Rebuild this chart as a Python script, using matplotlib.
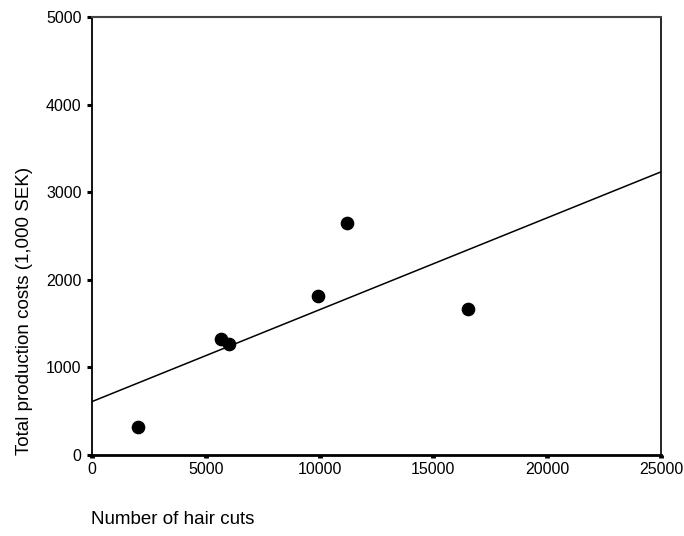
import matplotlib
matplotlib.use("Agg")
import matplotlib.pyplot as plt
import numpy as np

plt.rcParams['font.family'] = ['Liberation Sans', 'DejaVu Sans']

# hair cuts per salon and total production costs (1,000 SEK)
hair_cuts = [2000, 5650, 6000, 9950, 11200, 16500]
costs = [320, 1325, 1265, 1815, 2650, 1665]

x_ticks = [0, 5000, 10000, 15000, 20000, 25000]
y_ticks = [0, 1000, 2000, 3000, 4000, 5000]


def main():
    fig = plt.figure(figsize=(6.84, 5.36), dpi=100)
    ax = fig.add_axes([92 / 684, 1 - 455 / 536, 569 / 684, 438 / 536])

    ax.scatter(hair_cuts, costs, s=78, color='black', zorder=3)

    # least squares line through the points
    slope, intercept = np.polyfit(hair_cuts, costs, 1)
    xs = np.array([x_ticks[0], x_ticks[-1]])
    ax.plot(xs, intercept + slope * xs, color='black', lw=1.1)

    ax.set_xlim(x_ticks[0], x_ticks[-1])
    ax.set_ylim(y_ticks[0], y_ticks[-1])
    ax.set_xticks(x_ticks)
    ax.set_yticks(y_ticks)
    ax.set_xticklabels([str(t) for t in x_ticks])
    ax.set_yticklabels([str(t) for t in y_ticks])

    ax.tick_params(axis='x', direction='out', length=2.2, width=3.5,
                   pad=2.5, labelsize=11.5)
    ax.tick_params(axis='y', direction='out', length=3.5, width=2.2,
                   pad=4, labelsize=11.5)

    ax.spines['left'].set_linewidth(1.3)
    ax.spines['bottom'].set_linewidth(2.0)
    ax.spines['top'].set_linewidth(1.5)
    ax.spines['top'].set_color('#444444')
    ax.spines['right'].set_linewidth(1.2)

    fig.text(25 / 684, 1 - 311 / 536, 'Total production costs (1,000 SEK)',
             rotation=90, ha='center', va='center', fontsize=13.5)
    fig.text(91 / 684, 1 - 519 / 536, 'Number of hair cuts',
             ha='left', va='center', fontsize=13.5)

    fig.savefig('out.png', dpi=100)


if __name__ == '__main__':
    main()
